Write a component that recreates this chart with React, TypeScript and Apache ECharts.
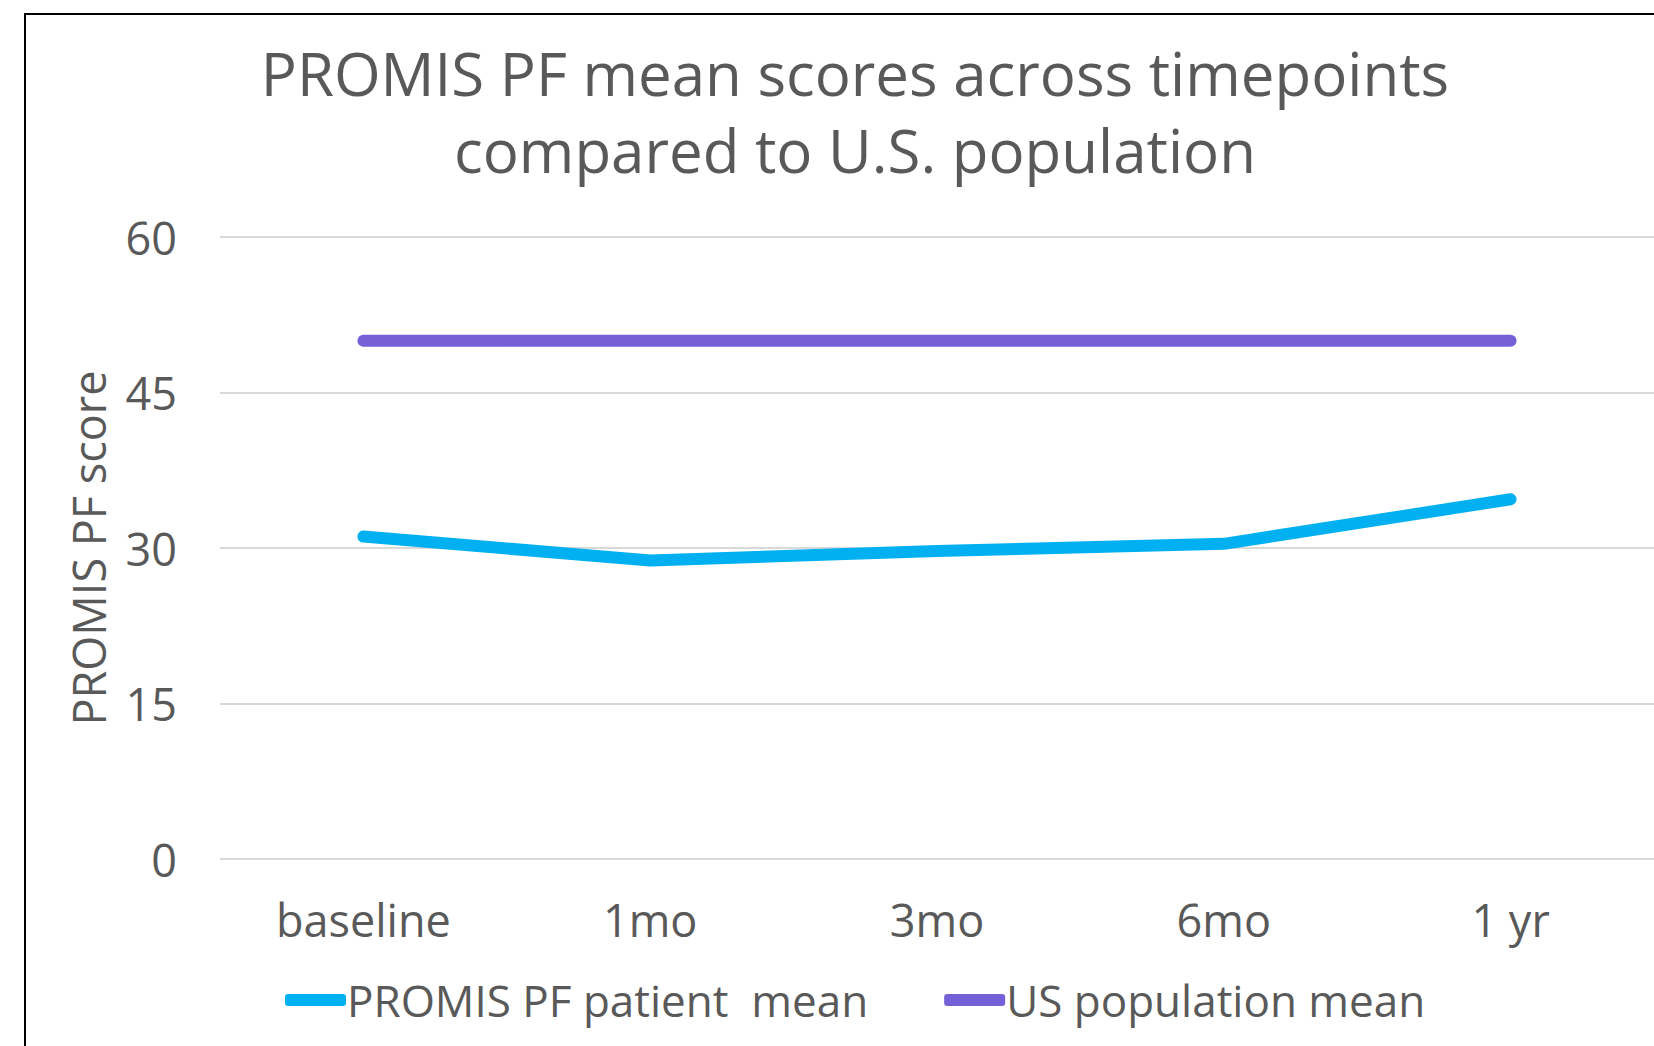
import React, { useEffect, useRef } from "react";
import * as echarts from "echarts";

const categories = ["baseline", "1mo", "3mo", "6mo", "1 yr"];
const patientMean = [31.1, 28.8, 29.7, 30.4, 34.7];
const usPopulationMean = [50, 50, 50, 50, 50];
const titleText = "PROMIS PF mean scores across timepoints\ncompared to U.S. population";
const yAxisName = "PROMIS PF score";
const seriesNames = ["PROMIS PF patient  mean", "US population mean"];

const TEXT = "#595959";
const FONT = "'Open Sans', 'Liberation Sans', sans-serif";

export default function App() {
  const ref = useRef<HTMLDivElement>(null);
  useEffect(() => {
    document.body.style.margin = "0";
    document.body.style.overflow = "hidden";
    const chart = echarts.init(ref.current!, undefined, { renderer: "svg" });
    chart.setOption({
      animation: false,
      backgroundColor: "#ffffff",
      textStyle: { fontFamily: FONT },
      title: {
        text: titleText,
        left: 850,
        top: 29,
        textAlign: "center",
        textStyle: {
          color: TEXT,
          fontSize: 60,
          fontWeight: "normal",
          lineHeight: 77,
          fontFamily: FONT,
        },
      },
      graphic: [
        {
          type: "rect",
          shape: { x: 25, y: 14, width: 1700, height: 1100 },
          style: { fill: "none", stroke: "#000000", lineWidth: 2 },
          silent: true,
          z: 100,
        },
      ],
      grid: { left: 220, right: -7, top: 237, bottom: 187, containLabel: false },
      xAxis: {
        type: "category",
        data: categories,
        boundaryGap: true,
        axisLine: { show: false },
        axisTick: { show: false },
        axisLabel: { color: TEXT, fontSize: 45, margin: 38, fontFamily: FONT },
      },
      yAxis: {
        type: "value",
        min: 0,
        max: 60,
        interval: 15,
        name: yAxisName,
        nameLocation: "middle",
        nameGap: 109,
        nameRotate: 90,
        nameTextStyle: { color: TEXT, fontSize: 45, fontFamily: FONT },
        axisLine: { show: false },
        axisTick: { show: false },
        axisLabel: { color: TEXT, fontSize: 45, margin: 43, fontFamily: FONT },
        splitLine: { lineStyle: { color: "#D9D9D9", width: 2 } },
      },
      legend: {
        left: 280,
        top: 973,
        itemGap: 76,
        itemWidth: 61,
        itemHeight: 12,
        icon: "roundRect",
        textStyle: { color: TEXT, fontSize: 44, padding: [0, 0, 0, -4], fontFamily: FONT },
        data: seriesNames,
      },
      series: [
        {
          name: seriesNames[0],
          type: "line",
          data: patientMean,
          symbol: "none",
          lineStyle: { color: "#00B0F0", width: 12, cap: "round", join: "round" },
          itemStyle: { color: "#00B0F0" },
        },
        {
          name: seriesNames[1],
          type: "line",
          data: usPopulationMean,
          symbol: "none",
          lineStyle: { color: "#7660D8", width: 12, cap: "round", join: "round" },
          itemStyle: { color: "#7660D8" },
        },
      ],
    });
    return () => chart.dispose();
  }, []);
  return <div ref={ref} style={{ width: 1654, height: 1046 }} />;
}
